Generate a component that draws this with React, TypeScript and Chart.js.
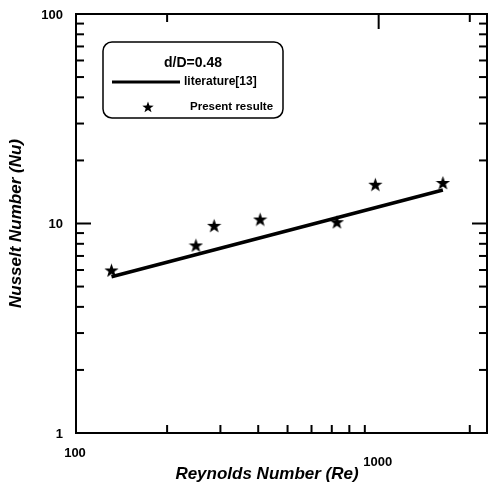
import React, { useEffect, useRef } from "react";
import { Chart, registerables } from "chart.js";

Chart.register(...registerables);

// Data
const reynolds: number[] = [131, 249, 286, 406, 728, 975, 1630];
const nusselt: number[] = [6.0, 7.9, 9.8, 10.5, 10.2, 15.4, 15.7];
const litRe: number[] = [131, 1630];
const litNu: number[] = [5.57, 14.45];

const xMin = 100;
const xMax = 2280;
const yMin = 1;
const yMax = 100;

const xTickLabels: number[] = [100, 1000];
const yTickLabels: number[] = [1, 10, 100];
const xMinorBottom: number[] = [200, 300, 400, 500, 600, 700, 800, 900, 2000];
const xTicksTop: number[] = [200, 2000];
const xMajorTop: number[] = [1000];
const yMinor: number[] = [2, 3, 4, 5, 6, 7, 8, 9, 20, 30, 40, 50, 60, 70, 80, 90];
const yMajor: number[] = [10];

const legendTitle = "d/D=0.48";
const lineLabel = "literature[13]";
const starLabel = "Present resulte";
const xTitle = "Reynolds Number (Re)";
const yTitle = "Nusselt Number (Nu)";

const FONT = '"Liberation Sans", Arial, Helvetica, sans-serif';

function starPath(ctx: CanvasRenderingContext2D, cx: number, cy: number, ro: number, ri: number) {
  ctx.beginPath();
  for (let i = 0; i < 10; i++) {
    const r = i % 2 === 0 ? ro : ri;
    const a = -Math.PI / 2 + (i * Math.PI) / 5;
    const px = cx + r * Math.cos(a);
    const py = cy + r * Math.sin(a);
    if (i === 0) ctx.moveTo(px, py);
    else ctx.lineTo(px, py);
  }
  ctx.closePath();
}

function makeStar(size: number): HTMLCanvasElement {
  const c = document.createElement("canvas");
  c.width = size;
  c.height = size;
  const g = c.getContext("2d")!;
  g.fillStyle = "#000";
  starPath(g, size / 2, size / 2 + size * 0.06, size / 2, size / 5);
  g.fill();
  return c;
}

const framePlugin = {
  id: "framePlugin",
  afterDraw(chart: any) {
    const ctx: CanvasRenderingContext2D = chart.ctx;
    const { left, right, top, bottom } = chart.chartArea;
    const xs = chart.scales.x;
    const ys = chart.scales.y;
    ctx.save();
    ctx.strokeStyle = "#000";
    ctx.fillStyle = "#000";
    // frame
    ctx.lineWidth = 2;
    ctx.strokeRect(left, top, right - left, bottom - top);
    // ticks
    const minorLen = 8;
    const majorLen = 15;
    ctx.lineWidth = 2;
    const line = (x1: number, y1: number, x2: number, y2: number) => {
      ctx.beginPath();
      ctx.moveTo(x1, y1);
      ctx.lineTo(x2, y2);
      ctx.stroke();
    };
    xMinorBottom.forEach((v) => {
      const x = xs.getPixelForValue(v);
      line(x, bottom, x, bottom - minorLen);
    });
    xTicksTop.forEach((v) => {
      const x = xs.getPixelForValue(v);
      line(x, top, x, top + minorLen);
    });
    xMajorTop.forEach((v) => {
      const x = xs.getPixelForValue(v);
      line(x, top, x, top + majorLen);
    });
    yMinor.forEach((v) => {
      const y = ys.getPixelForValue(v);
      line(left, y, left + minorLen, y);
      line(right, y, right - minorLen, y);
    });
    yMajor.forEach((v) => {
      const y = ys.getPixelForValue(v);
      line(left, y, left + majorLen, y);
      line(right, y, right - majorLen, y);
    });
    // tick labels
    ctx.font = "bold 13px " + FONT;
    ctx.textAlign = "right";
    ctx.textBaseline = "middle";
    yTickLabels.forEach((v) => {
      const y = ys.getPixelForValue(v);
      ctx.fillText(String(v), left - 13, y + 1);
    });
    ctx.textAlign = "center";
    xTickLabels.forEach((v, i) => {
      const x = xs.getPixelForValue(v);
      ctx.fillText(String(v), x - 1, bottom + (i === 0 ? 20 : 29));
    });
    // axis titles
    ctx.font = "italic bold 17px " + FONT;
    ctx.fillText(xTitle, 267, bottom + 41);
    ctx.save();
    ctx.translate(16, (top + bottom) / 2);
    ctx.rotate(-Math.PI / 2);
    ctx.fillText(yTitle, 0, 0);
    ctx.restore();
    // legend box
    const bx = 103, by = 42, bw = 180, bh = 76, r = 9;
    ctx.lineWidth = 1.5;
    ctx.beginPath();
    ctx.moveTo(bx + r, by);
    ctx.lineTo(bx + bw - r, by);
    ctx.arcTo(bx + bw, by, bx + bw, by + r, r);
    ctx.lineTo(bx + bw, by + bh - r);
    ctx.arcTo(bx + bw, by + bh, bx + bw - r, by + bh, r);
    ctx.lineTo(bx + r, by + bh);
    ctx.arcTo(bx, by + bh, bx, by + bh - r, r);
    ctx.lineTo(bx, by + r);
    ctx.arcTo(bx, by, bx + r, by, r);
    ctx.closePath();
    ctx.stroke();
    ctx.font = "bold 14px " + FONT;
    ctx.textAlign = "center";
    ctx.fillText(legendTitle, 193, 63);
    ctx.lineWidth = 3;
    line(112, 82, 180, 82);
    ctx.font = "bold 12px " + FONT;
    ctx.textAlign = "left";
    ctx.fillText(lineLabel, 184, 82);
    starPath(ctx, 148, 107.5, 6, 2.4);
    ctx.fill();
    ctx.font = "bold 11.5px " + FONT;
    ctx.fillText(starLabel, 190, 107);
    ctx.restore();
  },
};

export default function App() {
  const ref = useRef<HTMLCanvasElement | null>(null);
  useEffect(() => {
    if (!ref.current) return;
    const starImg = makeStar(15);
    const chart = new Chart(ref.current, {
      type: "scatter",
      data: {
        datasets: [
          {
            type: "line",
            label: lineLabel,
            data: litRe.map((x, i) => ({ x, y: litNu[i] })),
            borderColor: "#000",
            borderWidth: 3.5,
            pointRadius: 0,
            fill: false,
          } as any,
          {
            label: starLabel,
            data: reynolds.map((x, i) => ({ x, y: nusselt[i] })),
            pointStyle: starImg as any,
            pointRadius: 7,
            backgroundColor: "#000",
            borderColor: "#000",
          },
        ],
      },
      options: {
        animation: false,
        responsive: false,
        maintainAspectRatio: false,
        layout: { padding: { left: 76, top: 14, right: 5, bottom: 57 } },
        plugins: { legend: { display: false }, tooltip: { enabled: false } },
        scales: {
          x: { type: "logarithmic", min: xMin, max: xMax, display: false },
          y: { type: "logarithmic", min: yMin, max: yMax, display: false },
        },
      },
      plugins: [framePlugin],
    });
    return () => chart.destroy();
  }, []);
  return (
    <div style={{ position: "absolute", left: 0, top: 0, width: 495, height: 490, background: "#fff" }}>
      <canvas ref={ref} width={495} height={490} style={{ width: 495, height: 490 }} />
    </div>
  );
}
